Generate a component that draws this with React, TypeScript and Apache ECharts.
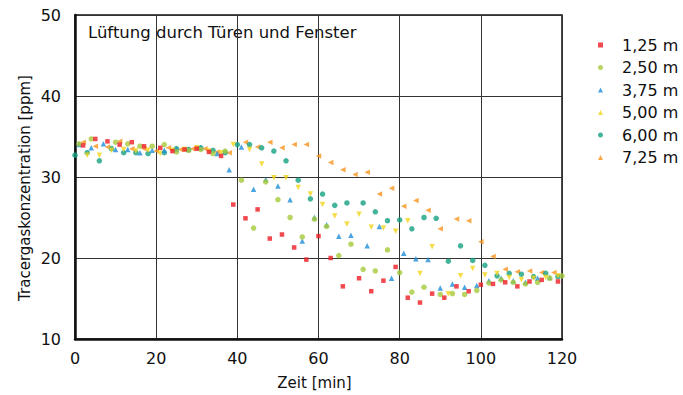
import React, { useEffect, useRef } from "react";
import * as echarts from "echarts";

const seriesNames = ["1,25 m", "2,50 m", "3,75 m", "5,00 m", "6,00 m", "7,25 m"];
const seriesColors = ["#ec1c24", "#a6c93a", "#1f8fd8", "#f2d51c", "#14a081", "#f7941d"];

const h125: number[][] = [
  [2, 33.9], [5, 34.7], [8, 34.4], [11, 34.0], [14, 34.3], [17, 33.8], [21, 33.6], [24, 33.2],
  [27, 33.4], [30, 33.5], [33, 33.1], [36, 32.6], [39, 26.6], [42, 24.9], [45, 26.0], [48, 22.4],
  [51, 22.9], [54, 21.3], [57, 19.8], [60, 22.7], [63, 20.0], [66, 16.5], [70, 17.5], [73, 15.9],
  [76, 17.2], [79, 18.9], [82, 15.1], [85, 14.5], [88, 15.6], [91, 15.1], [94, 16.5], [97, 15.9],
  [100, 16.7], [103, 16.8], [106, 17.0], [109, 16.5], [112, 17.1], [115, 17.3], [119, 17.1],
];
const h250: number[][] = [
  [1, 34.1], [4, 34.7], [10, 34.3], [13, 34.1], [16, 33.8], [19, 33.8], [22, 34.0], [25, 33.1],
  [28, 33.3], [31, 33.4], [34, 32.9], [37, 33.2], [41, 29.6], [44, 23.7], [47, 29.4], [50, 27.2],
  [53, 25.0], [56, 22.6], [59, 24.8], [62, 23.9], [65, 20.3], [68, 21.7], [71, 18.6], [74, 18.4],
  [77, 21.0], [80, 18.2], [83, 15.8], [86, 16.4], [90, 15.5], [93, 15.6], [96, 15.5], [99, 16.0],
  [102, 16.9], [105, 17.3], [108, 17.0], [111, 16.8], [114, 17.0], [117, 17.5], [120, 17.8],
];
const h375: number[][] = [
  [1, 34.0], [4, 33.6], [7, 34.1], [10, 33.4], [13, 33.4], [16, 33.0], [19, 33.3], [22, 33.3],
  [25, 33.4], [28, 33.4], [31, 33.6], [35, 32.9], [38, 30.9], [41, 33.7], [44, 28.5], [47, 29.7],
  [50, 28.9], [53, 27.2], [56, 22.1], [59, 25.0], [62, 24.1], [65, 22.7], [68, 22.8], [72, 21.5],
  [75, 23.9], [78, 17.5], [81, 20.6], [84, 19.9], [87, 19.8], [90, 16.3], [93, 16.8], [96, 16.4],
  [99, 16.6], [102, 17.2], [105, 17.5], [108, 17.2], [111, 17.0], [114, 17.5], [117, 17.6],
];
const h500: number[][] = [
  [3, 32.7], [6, 32.7], [9, 33.3], [12, 33.4], [15, 33.2], [18, 33.3], [21, 32.9], [24, 33.3],
  [27, 33.4], [30, 33.6], [33, 33.2], [36, 33.0], [39, 34.0], [43, 33.4], [46, 31.6], [49, 29.9],
  [52, 29.9], [55, 28.7], [58, 27.9], [61, 26.6], [64, 25.2], [67, 24.2], [70, 25.4], [73, 23.8],
  [76, 23.7], [79, 23.3], [82, 24.6], [85, 18.1], [88, 21.4], [92, 15.6], [95, 17.8], [98, 18.7],
  [101, 17.9], [104, 18.1], [107, 17.6], [110, 17.3], [113, 17.5], [116, 17.6], [119, 17.8],
];
const h600: number[][] = [
  [0, 32.7], [3, 33.0], [6, 32.0], [9, 33.5], [12, 33.0], [15, 33.0], [18, 32.9], [22, 33.0],
  [25, 33.5], [28, 33.4], [31, 33.6], [34, 33.3], [37, 33.0], [40, 34.0], [43, 34.0], [46, 33.6],
  [49, 33.2], [52, 32.0], [55, 29.6], [58, 27.3], [61, 27.9], [64, 26.5], [67, 26.8], [71, 26.8],
  [74, 25.7], [77, 24.6], [80, 24.7], [83, 23.6], [86, 25.0], [89, 24.9], [92, 19.6], [95, 21.5],
  [98, 19.7], [101, 19.1], [104, 17.8], [107, 18.1], [110, 18.0], [113, 17.7], [116, 18.1], [119, 17.7],
];
const h725: number[][] = [
  [2, 34.3], [5, 33.8], [8, 33.7], [11, 34.4], [14, 33.5], [17, 33.5], [20, 33.2], [23, 33.6],
  [26, 33.4], [29, 33.5], [32, 33.5], [35, 33.1], [38, 33.0], [42, 34.3], [45, 33.7], [48, 34.3],
  [51, 33.6], [54, 34.0], [57, 34.0], [60, 32.6], [63, 31.8], [66, 30.9], [69, 30.3], [72, 30.6],
  [75, 27.9], [78, 28.6], [81, 26.4], [84, 27.1], [87, 25.9], [90, 23.6], [94, 24.8], [97, 24.6],
  [100, 22.0], [103, 20.2], [106, 18.6], [109, 18.3], [112, 18.4], [115, 18.2], [118, 18.2],
];

const seriesData = [h125, h250, h375, h500, h600, h725];
const symbols = ["rect", "circle", "triangle", "triangle", "circle", "triangle"];
const rotations = [0, 0, 0, 180, 0, 90];

const xTicks = [0, 20, 40, 60, 80, 100, 120];
const yTicks = [10, 20, 30, 40, 50];

const FONT = "DejaVu Sans";

export default function App() {
  const ref = useRef<HTMLDivElement>(null);
  useEffect(() => {
    if (!ref.current) return;
    const chart = echarts.init(ref.current, undefined, { renderer: "svg" });
    chart.setOption({
      animation: false,
      backgroundColor: "#ffffff",
      grid: {
        left: 75,
        right: 121,
        top: 15,
        bottom: 54,
        show: true,
        borderColor: "#111",
        borderWidth: 1.5,
        backgroundColor: "#ffffff",
      },
      legend: {
        orient: "vertical",
        left: 598,
        top: 37,
        padding: 0,
        itemWidth: 5,
        itemHeight: 5,
        itemGap: 6.5,
        textStyle: {
          fontFamily: FONT,
          fontSize: 16,
          color: "#111",
          lineHeight: 16,
          padding: [0, 0, 0, 14],
        },
        data: seriesNames,
      },
      graphic: [
        {
          type: "text",
          left: 88,
          top: 24,
          style: { text: "Lüftung durch Türen und Fenster", font: `16.5px "${FONT}"`, fill: "#111" },
        },
        {
          type: "text",
          x: 25,
          y: 188,
          rotation: Math.PI / 2,
          style: {
            text: "Tracergaskonzentration [ppm]",
            font: `15px "${FONT}"`,
            fill: "#111",
            align: "center",
            verticalAlign: "middle",
          },
        },
      ],
      xAxis: {
        type: "value",
        min: xTicks[0],
        max: xTicks[xTicks.length - 1],
        interval: 20,
        name: "Zeit [min]",
        nameLocation: "middle",
        nameGap: 36,
        nameTextStyle: { fontFamily: FONT, fontSize: 15, color: "#111", padding: [0, 8, 0, 0] },
        axisLine: { show: true, onZero: false, lineStyle: { color: "#111", width: 2.5 } },
        axisTick: { show: false },
        axisLabel: { fontFamily: FONT, fontSize: 16, color: "#111", margin: 11 },
        splitLine: { show: true, lineStyle: { color: "#333", width: 1 } },
      },
      yAxis: {
        type: "value",
        min: yTicks[0],
        max: yTicks[yTicks.length - 1],
        interval: 10,
        axisLine: { show: true, onZero: false, lineStyle: { color: "#111", width: 2.5 } },
        axisTick: { show: false },
        axisLabel: { fontFamily: FONT, fontSize: 16, color: "#111", margin: 14 },
        splitLine: { show: true, lineStyle: { color: "#333", width: 1 } },
      },
      series: seriesNames.map((name, i) => ({
        name,
        type: "scatter",
        data: seriesData[i],
        symbol: symbols[i],
        symbolRotate: rotations[i],
        symbolSize: i === 0 ? 4.5 : 5.5,
        itemStyle: { color: seriesColors[i] },
        z: 10 - i,
      })),
    });
    return () => chart.dispose();
  }, []);
  return <div ref={ref} style={{ width: 683, height: 395, position: "absolute", left: 0, top: 0 }} />;
}
